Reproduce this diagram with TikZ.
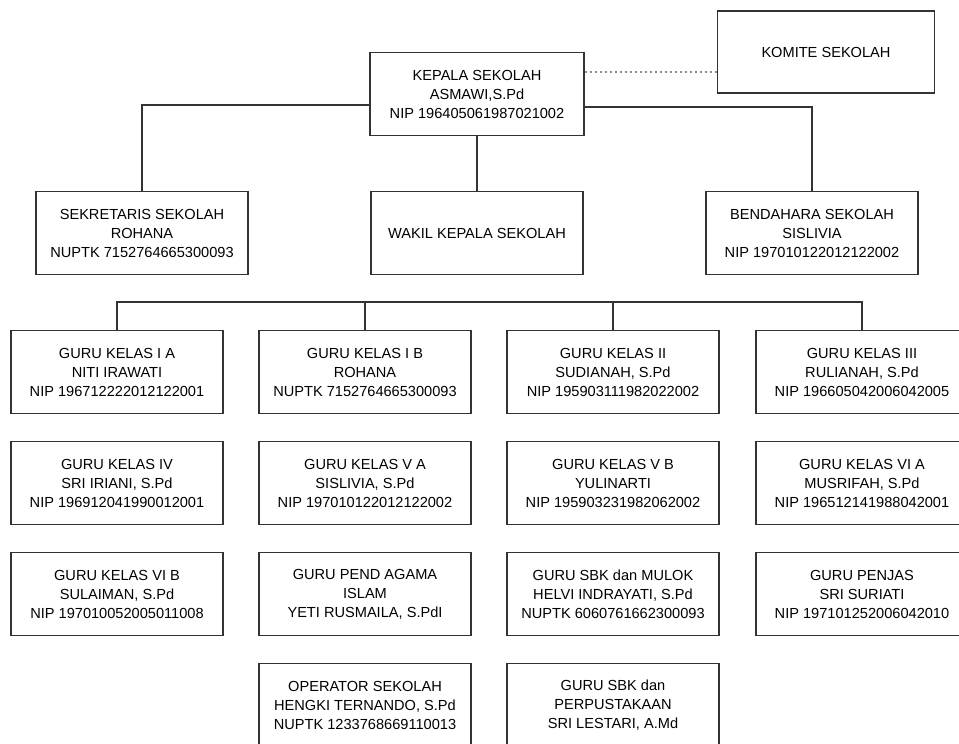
\documentclass[tikz,border=0pt]{standalone}
\usepackage{fontspec}
\setmainfont{Liberation Sans}
\begin{document}
\begin{tikzpicture}[x=1pt,y=-1pt,
    unit/.style={draw=black!80, line width=1.3pt, inner sep=0pt, align=center,
        minimum width=212pt, minimum height=83pt,
        font=\fontsize{14.6}{19}\selectfont},
    link/.style={draw=black!80, line width=1.3pt},
    advisory/.style={draw=black!45, line width=1.3pt, dash pattern=on 2.5pt off 2.5pt}]
    \useasboundingbox (0,0) rectangle (959,744);

    \node[unit, minimum width=214pt] (kepala) at (477,94) {KEPALA SEKOLAH\\ASMAWI,S.Pd\\NIP 196405061987021002};
    \node[unit, minimum width=217pt, minimum height=82pt] (komite) at (826,52) {KOMITE SEKOLAH};

    \node[unit] (sekretaris) at (142,233) {SEKRETARIS SEKOLAH\\ROHANA\\NUPTK 7152764665300093};
    \node[unit] (wakil) at (477,233) {WAKIL KEPALA SEKOLAH};
    \node[unit] (bendahara) at (812,233) {BENDAHARA SEKOLAH\\SISLIVIA\\NIP 197010122012122002};

    \node[unit] (kelasia) at (117,372) {GURU KELAS I A\\NITI IRAWATI\\NIP 196712222012122001};
    \node[unit] (kelasib) at (365,372) {GURU KELAS I B\\ROHANA\\NUPTK 7152764665300093};
    \node[unit] (kelasii) at (613,372) {GURU KELAS II\\SUDIANAH, S.Pd\\NIP 195903111982022002};
    \node[unit] (kelasiii) at (862,372) {GURU KELAS III\\RULIANAH, S.Pd\\NIP 196605042006042005};

    \node[unit] (kelasiv) at (117,483) {GURU KELAS IV\\SRI IRIANI, S.Pd\\NIP 196912041990012001};
    \node[unit] (kelasva) at (365,483) {GURU KELAS V A\\SISLIVIA, S.Pd\\NIP 197010122012122002};
    \node[unit] (kelasvb) at (613,483) {GURU KELAS V B\\YULINARTI\\NIP 195903231982062002};
    \node[unit] (kelasvia) at (862,483) {GURU KELAS VI A\\MUSRIFAH, S.Pd\\NIP 196512141988042001};

    \node[unit] (kelasvib) at (117,594) {GURU KELAS VI B\\SULAIMAN, S.Pd\\NIP 197010052005011008};
    \node[unit] (agama) at (365,594) {GURU PEND AGAMA\\ISLAM\\YETI RUSMAILA, S.PdI};
    \node[unit] (sbkmulok) at (613,594) {GURU SBK dan MULOK\\HELVI INDRAYATI, S.Pd\\NUPTK 6060761662300093};
    \node[unit] (penjas) at (862,594) {GURU PENJAS\\SRI SURIATI\\NIP 197101252006042010};

    \node[unit] (operator) at (365,705) {OPERATOR SEKOLAH\\HENGKI TERNANDO, S.Pd\\NUPTK 1233768669110013};
    \node[unit] (perpus) at (613,705) {GURU SBK dan\\PERPUSTAKAAN\\SRI LESTARI, A.Md};

    \coordinate (bus) at (0,302);

    \draw[advisory] ([yshift=22pt]kepala.east) -- ([yshift=22pt]kepala.east -| komite.west);
    \draw[link] ([yshift=-11pt]kepala.west) -| (sekretaris.north);
    \draw[link] ([yshift=-13pt]kepala.east) -| (bendahara.north);
    \draw[link] (kepala.south) -- (wakil.north);
    \draw[link] (kelasia.north) -- (kelasia.north |- bus) -- (kelasiii.north |- bus) -- (kelasiii.north);
    \draw[link] (kelasib.north) -- (kelasib.north |- bus);
    \draw[link] (kelasii.north) -- (kelasii.north |- bus);
\end{tikzpicture}
\end{document}
